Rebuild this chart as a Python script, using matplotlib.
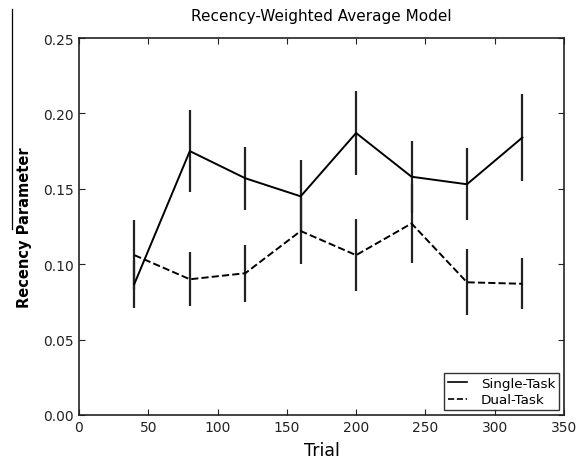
import matplotlib
matplotlib.use("Agg")
import matplotlib.pyplot as plt
from matplotlib.lines import Line2D

# trial blocks
trials = [40, 80, 120, 160, 200, 240, 280, 320]

# recency parameter, single task
single_mean = [0.087, 0.175, 0.157, 0.145, 0.187, 0.158, 0.153, 0.184]
single_err = [0.016, 0.027, 0.021, 0.024, 0.028, 0.024, 0.024, 0.029]

# recency parameter, dual task
dual_mean = [0.106, 0.090, 0.094, 0.122, 0.106, 0.127, 0.088, 0.087]
dual_err = [0.023, 0.018, 0.019, 0.022, 0.024, 0.026, 0.022, 0.017]

xticks = [0, 50, 100, 150, 200, 250, 300, 350]
yticks = [0.00, 0.05, 0.10, 0.15, 0.20, 0.25]

fig = plt.figure(figsize=(5.79, 4.6), dpi=100)
ax = fig.add_axes([0.1364, 0.0957, 0.974 - 0.1364, 0.9152 - 0.0957])

ax.errorbar(trials, single_mean, yerr=single_err, color='k', linestyle='-',
            linewidth=1.4, elinewidth=1.6, ecolor='#222222', capsize=0)
ax.errorbar(trials, dual_mean, yerr=dual_err, color='k', linestyle='--',
            linewidth=1.4, elinewidth=1.6, ecolor='#222222', capsize=0)

ax.set_xlim(0, 350)
ax.set_ylim(0, 0.25)
ax.set_xticks(xticks)
ax.set_yticks(yticks)
ax.set_yticklabels(['%.2f' % v for v in yticks])
ax.tick_params(direction='in', top=True, right=True, length=4, width=0.8,
               labelsize=10, colors='#222222')
for s in ax.spines.values():
    s.set_linewidth(1.2)
    s.set_color('#222222')

ax.set_title('Recency-Weighted Average Model', fontsize=11, pad=13)
ax.set_xlabel('Trial', fontsize=12.5, labelpad=5)
ax.set_ylabel('Recency Parameter', fontsize=10.5, fontweight='bold', labelpad=8)

# legend with plain line handles
handles = [Line2D([], [], color='k', linestyle='-', linewidth=1.2),
           Line2D([], [], color='k', linestyle='--', linewidth=1.2)]
leg = ax.legend(handles, ['Single-Task', 'Dual-Task'], loc='lower right',
                fontsize=9.7, frameon=True, fancybox=False,
                handlelength=1.4, handletextpad=1.0, borderpad=0.3,
                labelspacing=0.25, borderaxespad=0.35)
leg.get_frame().set_edgecolor('k')
leg.get_frame().set_linewidth(1.0)

# stray scan line at the left edge of the figure
fig.add_artist(Line2D([12 / 579, 12 / 579], [1 - 10 / 460, 1 - 230 / 460],
                      transform=fig.transFigure, color='k', linewidth=0.9))

fig.savefig('out.png', dpi=100)
